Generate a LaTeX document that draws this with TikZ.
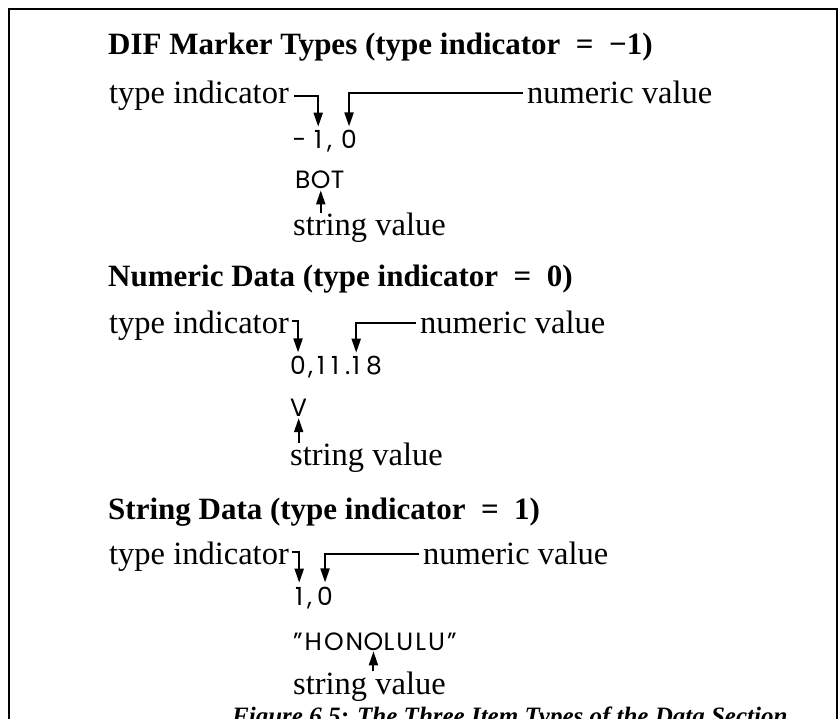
\documentclass[tikz,border=0pt]{standalone}
\usepackage{fontspec}
\usetikzlibrary{arrows.meta}
\newfontfamily\regfont{Liberation Serif}
\newfontfamily\codefont[LetterSpace=8]{Poppins}
\tikzset{
  lbl/.style={inner sep=0pt, anchor=base west, font={\regfont\fontsize{32.5}{38}\selectfont}},
  ttl/.style={inner sep=0pt, anchor=base west, font={\regfont\bfseries\fontsize{31}{36}\selectfont}},
  figcap/.style={inner sep=0pt, anchor=base west, font={\regfont\bfseries\itshape\fontsize{25}{30}\selectfont}},
  code/.style={inner sep=0pt, anchor=base west, font={\codefont\fontsize{25}{30}\selectfont}},
  arr/.style={draw, line width=2pt, -{Triangle[length=14pt,width=9pt]}},
  frame/.style={draw, line width=2.5pt}
}
\begin{document}
\begin{tikzpicture}[x=1pt,y=-1pt]
\useasboundingbox (0,0) rectangle (839,719);
\clip (0,0) rectangle (839,719);
\draw[frame] (9,740) -- (9,9) -- (837,9) -- (837,740);

% ---------- Section 1 ----------
\node[ttl] (t1) at (108,55) {DIF Marker Types (type indicator\enspace=\enspace−1)};
\node[lbl] (ti1) at (109,104) {type indicator};
\node[lbl] (nv1) at (527,104) {numeric value};
\node[code] (c1a) at (292,149) {−};
\node[code] (c1b) at (314,149) {1};
\node[code] (c1c) at (327,149) {,};
\node[code] (c1d) at (341,149) {0};
\node[code] (b1a) at (295,189) {B};
\node[code] (b1o) at (b1a.base east) {O};
\node[code] (b1t) at (b1o.base east) {T};
\node[lbl] (sv1) at (293,236) {string value};
\draw[arr] ([xshift=5pt]ti1.east) -| ([yshift=4pt]c1b.north);
\draw[arr] ([xshift=-4pt]nv1.west) -| ([yshift=4pt]c1d.north);
\draw[arr] (b1o.south |- sv1.north) -- ([yshift=-1pt]b1o.south);

% ---------- Section 2 ----------
\node[ttl] (t2) at (108,287) {Numeric Data (type indicator\enspace=\enspace0)};
\node[lbl] (ti2) at (109,334) {type indicator};
\node[lbl] (nv2) at (420,334) {numeric value};
\node[code] (c2a) at (290,375) {0};
\node[code] (c2b) at (308,375) {,};
\node[code] (c2c) at (317,375) {1};
\node[code] (c2d) at (331,375) {1};
\node[code] (c2e) at (345,375) {.};
\node[code] (c2f) at (352,375) {1};
\node[code] (c2g) at (366,375) {8};
\node[code] (v2) at (290,417) {V};
\node[lbl] (sv2) at (290,466) {string value};
\draw[arr] ([xshift=3pt,yshift=5pt]ti2.east) -| ([yshift=4pt]c2a.north);
\draw[arr] ([xshift=-4pt]nv2.west) -| ([yshift=4pt]c2f.north);
\draw[arr] (v2.south |- sv2.north) -- ([yshift=-1pt]v2.south);

% ---------- Section 3 ----------
\node[ttl] (t3) at (108,519) {String Data (type indicator\enspace=\enspace1)};
\node[lbl] (ti3) at (109,565) {type indicator};
\node[lbl] (nv3) at (423,565) {numeric value};
\node[code] (c3a) at (295,605) {1};
\node[code] (c3b) at (307,605) {,};
\node[code] (c3c) at (317,605) {0};
\node[code] (h3a) at (293,650) {”HON};
\node[code] (h3o) at (h3a.base east) {O};
\node[code] (h3b) at (h3o.base east) {LULU”};
\node[lbl] (sv3) at (293,694) {string value};
\draw[arr] ([xshift=3pt,yshift=5pt]ti3.east) -| ([yshift=4pt]c3a.north);
\draw[arr] ([xshift=-4pt]nv3.west) -| ([yshift=4pt]c3c.north);
\draw[arr] (h3o.south |- sv3.north) -- ([yshift=-1pt]h3o.south);

% ---------- Caption ----------
\node[figcap] (fig) at (232,724) {Figure 6.5: The Three Item Types of the Data Section};
\end{tikzpicture}
\end{document}
